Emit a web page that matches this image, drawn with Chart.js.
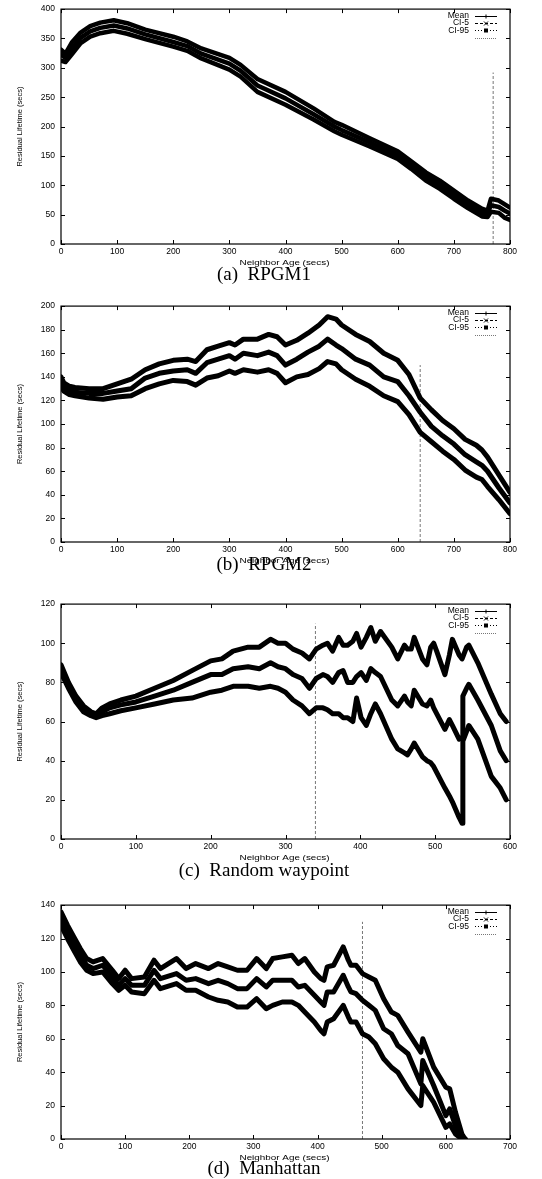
<!DOCTYPE html>
<html>
<head>
<meta charset="utf-8">
<script src="https://cdn.jsdelivr.net/npm/chart.js@4.4.0/dist/chart.umd.min.js"></script>
<style>
  html, body { margin: 0; padding: 0; background: #fff; }
  #page { position: relative; width: 542px; height: 1179px; overflow: hidden; background: #fff; }
  canvas { position: absolute; left: 0; }
  .caption {
    position: absolute; left: 0; width: 528px; text-align: center;
    font-family: "Liberation Serif", "Times New Roman", serif;
    font-size: 19px; line-height: 20px; color: #000; white-space: pre;
  }
</style>
</head>
<body>
<div id="page">
  <canvas id="chart-a" width="542" height="272" style="top:-2px"></canvas>
  <canvas id="chart-b" width="542" height="273" style="top:295px"></canvas>
  <canvas id="chart-c" width="542" height="272" style="top:593px"></canvas>
  <canvas id="chart-d" width="542" height="271" style="top:894px"></canvas>
  <div class="caption" style="top:264px">(a)  RPGM1</div>
  <div class="caption" style="top:554px">(b)  RPGM2</div>
  <div class="caption" style="top:860px">(c)  Random waypoint</div>
  <div class="caption" style="top:1158px">(d)  Manhattan</div>
</div>
<script>
const seriesLabels = ["Mean", "CI-5", "CI-95", ""];

// (a) RPGM1
const ageA = [0, 8, 20, 35, 52, 70, 94, 118, 150, 200, 225, 250, 300, 320, 350, 400, 450, 487, 500, 550, 600, 624, 650, 675, 700, 725, 750, 760, 766, 780, 790, 800];
const meanA = [322, 317, 334, 351, 362, 368, 372, 367, 357, 344, 337, 324, 307, 295, 270, 248, 221, 200, 194, 173, 151, 134, 115, 101, 84, 67, 53, 52, 66, 63, 57, 52];
const ci5A = [312, 310, 324, 342, 353, 359, 363, 358, 349, 336, 329, 316, 297, 285, 259, 237, 212, 192, 186, 166, 145, 128, 108, 94, 77, 61, 47, 46, 55, 53, 45, 41];
const ci95A = [331, 324, 344, 360, 371, 377, 381, 376, 365, 353, 345, 333, 317, 305, 281, 259, 231, 208, 203, 180, 158, 141, 122, 108, 91, 74, 60, 57, 77, 74, 68, 62];

// (b) RPGM2
const ageB = [0, 5, 15, 25, 50, 75, 100, 125, 150, 175, 200, 225, 240, 260, 280, 300, 310, 325, 350, 370, 385, 400, 420, 440, 460, 475, 490, 500, 525, 550, 575, 600, 620, 640, 660, 680, 700, 720, 740, 750, 760, 780, 800];
const meanB = [135, 131, 129, 127, 126, 126, 128, 130, 139, 143, 145, 146, 143, 152, 155, 158, 155, 160, 158, 161, 158, 150, 155, 161, 166, 172, 167, 164, 155, 150, 140, 136, 124, 110, 98, 90, 83, 74, 68, 65, 60, 46, 33];
const ci5B = [132, 128, 125, 124, 122, 121, 123, 124, 130, 134, 137, 136, 133, 139, 141, 145, 143, 146, 144, 146, 143, 135, 140, 142, 147, 153, 151, 146, 138, 132, 124, 119, 108, 93, 85, 77, 70, 61, 55, 53, 47, 36, 24];
const ci95B = [140, 135, 132, 131, 130, 130, 134, 138, 146, 151, 154, 155, 153, 163, 166, 169, 167, 172, 172, 176, 174, 167, 171, 177, 184, 191, 189, 184, 176, 170, 160, 154, 142, 122, 112, 103, 96, 87, 82, 78, 72, 57, 42];

// (c) Random waypoint
const ageC = [0, 10, 20, 30, 40, 47, 55, 65, 80, 100, 125, 150, 175, 200, 215, 230, 250, 265, 280, 290, 300, 310, 322, 332, 341, 350, 356, 363, 371, 377, 383, 390, 395, 401, 408, 414, 420, 427, 442, 450, 459, 463, 468, 472, 483, 489, 494, 498, 502, 513, 519, 523, 532, 536, 537, 542, 545, 557, 575, 587, 595];
const meanC = [87, 79, 72, 67, 64, 63, 65, 67, 68.5, 70, 73, 76, 80, 84, 84, 87, 88, 87, 90, 88, 87, 84, 82, 77, 82, 84, 83, 80, 85, 86, 80, 80, 83, 85, 81, 87, 85, 83, 71, 68, 73, 70, 68, 76, 69, 68, 71, 67, 64, 56, 61, 58, 51, 52, 73, 77, 79, 71, 58, 45, 40];
const ci5C = [85, 77, 70, 65, 63, 62, 63, 64, 65.5, 67, 69, 71, 72, 75, 76, 78, 78, 77, 78, 77, 75, 71, 68, 64, 67, 67, 66, 64, 64, 62, 62, 60, 72, 62, 58, 64, 69, 64, 51, 46, 44, 43, 46, 49, 42, 40, 39, 37, 34, 26, 22, 19, 11, 8, 50, 55, 58, 51, 32, 26, 20];
const ci95C = [89, 80, 73, 68, 65, 64, 67, 69, 71, 73, 77, 81, 86, 91, 92, 96, 98, 98, 102, 100, 100, 97, 95, 92, 97, 99, 100, 96, 103, 99, 99, 101, 105, 98, 103, 108, 101, 106, 98, 92, 99, 97, 97, 103, 92, 89, 98, 100, 96, 84, 94, 102, 94, 92, 92, 98, 99, 90, 74, 64, 60];

// (d) Manhattan
const ageD = [0, 10, 20, 30, 40, 50, 65, 80, 90, 100, 110, 130, 145, 155, 180, 195, 210, 230, 245, 260, 275, 290, 305, 320, 330, 345, 360, 370, 380, 395, 405, 410, 415, 425, 440, 448, 452, 460, 470, 480, 490, 503, 515, 525, 541, 561, 564, 581, 600, 606, 615, 625, 630];
const meanD = [132, 124, 117, 110, 104, 102, 104, 97, 92, 96, 92, 92, 101, 96, 99, 95, 96, 93, 95, 93, 90, 90, 96, 91, 95, 95, 95, 91, 92, 86, 82, 80, 88, 88, 98, 91, 88, 87, 83, 80, 77, 66, 63, 56, 51, 33, 47, 32, 14, 18, 8, 1, 0];
const ci5D = [128, 120, 113, 106, 101, 99, 100, 93, 89, 92, 88, 87, 95, 90, 93, 89, 89, 85, 83, 82, 79, 79, 84, 78, 80, 82, 82, 80, 76, 70, 65, 63, 70, 72, 80, 73, 70, 70, 63, 61, 57, 48, 43, 40, 30, 20, 32, 22, 7, 9, 3, 0, 0];
const ci95D = [136, 128, 121, 114, 108, 106, 108, 101, 96, 101, 96, 97, 107, 102, 108, 102, 105, 102, 105, 103, 101, 101, 108, 102, 108, 109, 110, 105, 108, 100, 96, 95, 103, 104, 115, 107, 104, 104, 99, 97, 95, 84, 76, 74, 64, 52, 60, 43, 31, 30, 16, 3, 0];

const panels = [
  { id: "chart-a", age: ageA, mean: meanA, lo: ci5A, hi: ci95A, xMax: 800, yMax: 400, yStep: 50, cut: 770, cutTop: 292, lw: 4.5 },
  { id: "chart-b", age: ageB, mean: meanB, lo: ci5B, hi: ci95B, xMax: 800, yMax: 200, yStep: 20, cut: 640, cutTop: 150, lw: 5 },
  { id: "chart-c", age: ageC, mean: meanC, lo: ci5C, hi: ci95C, xMax: 600, yMax: 120, yStep: 20, cut: 340, cutTop: 110, lw: 5 },
  { id: "chart-d", age: ageD, mean: meanD, lo: ci5D, hi: ci95D, xMax: 700, yMax: 140, yStep: 20, cut: 470, cutTop: 130, lw: 5 },
];

const sans = '"Liberation Sans", Arial, Helvetica, sans-serif';

function points(xs, ys) {
  return xs.map((x, i) => ({ x: x, y: ys[i] }));
}

function stretchText(ctx, text, x, y, width) {
  const w = ctx.measureText(text).width;
  ctx.save();
  ctx.translate(x, y);
  ctx.scale(width / w, 1);
  ctx.fillText(text, 0, 0);
  ctx.restore();
}

// frame, inward ticks, legend and axis titles in gnuplot style
const gnuplotDecor = {
  id: "gnuplotDecor",
  afterDraw(chart) {
    const ctx = chart.ctx;
    const a = chart.chartArea;
    const xs = chart.scales.x;
    const ys = chart.scales.y;
    ctx.save();
    ctx.strokeStyle = "#000";
    ctx.lineWidth = 1.2;
    ctx.strokeRect(a.left, a.top, a.right - a.left, a.bottom - a.top);

    ctx.lineWidth = 1;
    ctx.beginPath();
    xs.ticks.forEach((t) => {
      const px = Math.round(xs.getPixelForValue(t.value)) + 0.5;
      ctx.moveTo(px, a.bottom); ctx.lineTo(px, a.bottom - 4);
      ctx.moveTo(px, a.top); ctx.lineTo(px, a.top + 4);
    });
    ys.ticks.forEach((t) => {
      const py = Math.round(ys.getPixelForValue(t.value)) + 0.5;
      ctx.moveTo(a.left, py); ctx.lineTo(a.left + 4, py);
      ctx.moveTo(a.right, py); ctx.lineTo(a.right - 4, py);
    });
    ctx.stroke();

    // legend
    ctx.font = "8.5px " + sans;
    ctx.fillStyle = "#000";
    ctx.textAlign = "right";
    ctx.textBaseline = "middle";
    const dashes = [[], [3, 2], [1, 2], [1, 1]];
    seriesLabels.forEach((label, i) => {
      const y = a.top + 6.5 + i * 7.3;
      const x0 = a.right - 35, x1 = a.right - 13, xm = (x0 + x1) / 2;
      if (label) ctx.fillText(label, a.right - 41, y);
      ctx.save();
      ctx.strokeStyle = i === 3 ? "#777" : "#000";
      ctx.lineWidth = 1;
      ctx.setLineDash(dashes[i]);
      ctx.beginPath();
      ctx.moveTo(x0, Math.round(y) + 0.5); ctx.lineTo(x1, Math.round(y) + 0.5);
      ctx.stroke();
      ctx.setLineDash([]);
      ctx.beginPath();
      const cy = Math.round(y) + 0.5;
      if (i === 0) {
        ctx.moveTo(xm - 2, cy); ctx.lineTo(xm + 2, cy);
        ctx.moveTo(xm, cy - 2); ctx.lineTo(xm, cy + 2);
        ctx.stroke();
      } else if (i === 1) {
        ctx.moveTo(xm - 2, cy - 2); ctx.lineTo(xm + 2, cy + 2);
        ctx.moveTo(xm - 2, cy + 2); ctx.lineTo(xm + 2, cy - 2);
        ctx.stroke();
      } else if (i === 2) {
        ctx.fillRect(xm - 2, cy - 2, 4, 4);
      }
      ctx.restore();
    });

    // axis titles
    ctx.textAlign = "center";
    ctx.font = "8px " + sans;
    stretchText(ctx, "Neighbor Age (secs)", (a.left + a.right) / 2 - 1, a.bottom + 19, 90);
    ctx.save();
    ctx.translate(20, (a.top + a.bottom) / 2);
    ctx.rotate(-Math.PI / 2);
    stretchText(ctx, "Residual Lifetime (secs)", 0, 0, 80);
    ctx.restore();
    ctx.restore();
  },
};

panels.forEach((p) => {
  const ctx = document.getElementById(p.id).getContext("2d");
  const line = (label, ys) => ({
    label: label,
    data: points(p.age, ys),
    borderColor: "#000",
    borderWidth: p.lw,
    borderJoinStyle: "round",
    borderCapStyle: "round",
    pointRadius: 0,
    tension: 0,
  });
  new Chart(ctx, {
    type: "line",
    data: {
      datasets: [
        line("Mean", p.mean),
        line("CI-5", p.lo),
        line("CI-95", p.hi),
        {
          label: "",
          data: [{ x: p.cut, y: 0 }, { x: p.cut, y: p.cutTop }],
          borderColor: "#777",
          borderWidth: 1,
          borderDash: [3, 2],
          pointRadius: 0,
        },
      ],
    },
    options: {
      responsive: false,
      animation: false,
      events: [],
      layout: { padding: { top: 8, right: 32, left: 0, bottom: 0 } },
      plugins: { legend: { display: false }, tooltip: { enabled: false } },
      scales: {
        x: {
          type: "linear",
          min: 0,
          max: p.xMax,
          ticks: { stepSize: 100, color: "#000", font: { size: 8.5, family: sans }, padding: 3, maxRotation: 0 },
          grid: { display: false, drawTicks: false },
          border: { display: false },
          afterFit(s) { s.height = 26; },
        },
        y: {
          min: 0,
          max: p.yMax,
          ticks: { stepSize: p.yStep, color: "#000", font: { size: 8.5, family: sans }, padding: 6 },
          grid: { display: false, drawTicks: false },
          border: { display: false },
          afterFit(s) { s.width = 61; },
        },
      },
    },
    plugins: [gnuplotDecor],
  });
});
</script>
</body>
</html>
